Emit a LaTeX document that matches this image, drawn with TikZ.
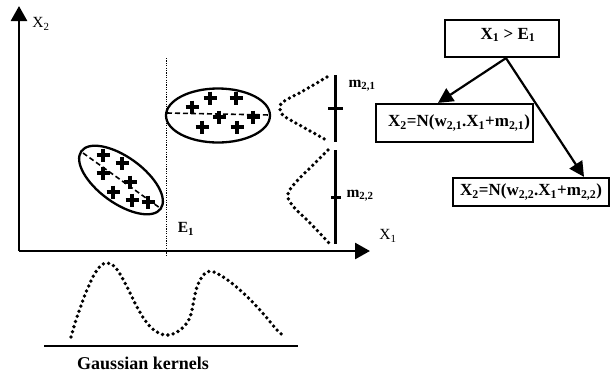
\documentclass[tikz,border=0pt]{standalone}
\usepackage{fontspec}
\setmainfont{Liberation Serif}
\usetikzlibrary{arrows.meta}
\begin{document}
\begin{tikzpicture}[x=1pt,y=-1pt,
  axis/.style={line width=2.6pt,-{Triangle[length=15pt,width=16pt]}},
  dotcurve/.style={line width=3.8pt,line cap=round,dash pattern=on 0pt off 5.4pt},
  plusmark/.style={line width=3.6pt},
  ell/.style={line width=2.3pt},
  dashline/.style={line width=1.6pt,dash pattern=on 5pt off 3pt},
  box/.style={draw,line width=2.2pt,inner sep=0pt},
  boxtxt/.style={font=\fontsize{17}{17}\selectfont\bfseries,inner sep=0pt},
  lab/.style={font=\fontsize{15.5}{15.5}\selectfont,inner sep=0pt},
  blab/.style={font=\fontsize{15.5}{15.5}\selectfont\bfseries,inner sep=0pt},
  conn/.style={line width=2.2pt,-{Triangle[length=15pt,width=15pt]}},
  solidbar/.style={line width=3pt},
]
\useasboundingbox (0,0) rectangle (610,376);
% axes
\coordinate (O) at (19,251);
\coordinate (xend) at (370,251);
\coordinate (yend) at (19,6);
\draw[axis] (O) -- (xend);
\draw[axis] (O) -- (yend);
\node[lab] (x2lab) at (41,24) {X\textsubscript{2}};
\node[lab] (x1lab) at (388,236) {X\textsubscript{1}};
% split line
\draw[line width=1.6pt,dash pattern=on 1.2pt off 1.2pt] (166.5,58) -- (166.5,256);
\node[blab] (e1lab) at (186,229) {E\textsubscript{1}};
% left cluster
\begin{scope}[shift={(121,180)},rotate=-36]
  \draw[ell] (0,0) ellipse [x radius=49pt, y radius=23pt];
\end{scope}
\draw[dashline] (83,153) -- (160,208);
\foreach \px/\py in {103/155,122/163,103/173,130/182,113/192,132/200,148/202}
  \draw[plusmark] (\px-6.5,\py) -- (\px+6.5,\py) (\px,\py-6.5) -- (\px,\py+6.5);
% right cluster
\draw[ell] (218,115.5) ellipse [x radius=52pt, y radius=27pt];
\draw[dashline] (167,113) -- (270,115);
\foreach \px/\py in {192/107,210/98,236/98,219/117,253/117,202/127,237/127}
  \draw[plusmark] (\px-6.5,\py) -- (\px+6.5,\py) (\px,\py-6.5) -- (\px,\py+6.5);
% conditional densities
\draw[dotcurve] plot[smooth,tension=0.6] coordinates {(327,77) (303,91) (283,102) (280,109) (284,116) (303,127) (328,141)};
\draw[dotcurve] plot[smooth,tension=0.6] coordinates {(328,150) (312,166) (296,182) (288,194) (292,205) (310,223) (329,243)};
\draw[solidbar] (335,75) -- (335,142);
\draw[solidbar] (328,108) -- (343,108);
\draw[solidbar] (335,150) -- (335,244);
\draw[solidbar] (331,197) -- (341,197);
\node[blab] (m21) at (362,86) {m\textsubscript{2,1}};
\node[blab] (m22) at (360,196) {m\textsubscript{2,2}};
% gaussian kernels
\draw[line width=2.6pt] (44,346) -- (298,346);
\draw[dotcurve] plot[smooth,tension=0.6] coordinates {(71,337) (77,317) (87,290) (97,270) (106,263) (115,267) (125,283) (137,307) (147,323) (157,332) (168,335) (180,330) (190,317) (197,287) (207,272) (220,275) (240,290) (260,310) (277,330) (285,337)};
\node[font=\fontsize{18}{18}\selectfont\bfseries,inner sep=0pt] (gk) at (143,363) {Gaussian kernels};
% decision tree
\node[box, minimum width=114pt, minimum height=37pt] (b1) at (502,38.5) {};
\node[boxtxt] (t1) at (508,35) {X\textsubscript{1} > E\textsubscript{1}};
\node[box, minimum width=157pt, minimum height=38pt] (b2) at (454.5,123) {};
\node[boxtxt, anchor=west] (t2) at (388,123) {X\textsubscript{2}=N(w\textsubscript{2,1}.X\textsubscript{1}+m\textsubscript{2,1})};
\node[box, minimum width=156pt, minimum height=28pt] (b3) at (531,192) {};
\node[boxtxt, anchor=west] (t3) at (460,192) {X\textsubscript{2}=N(w\textsubscript{2,2}.X\textsubscript{1}+m\textsubscript{2,2})};
\draw[conn] ([xshift=4pt]b1.south) -- ([xshift=-16.5pt]b2.north);
\draw[conn] ([xshift=4pt]b1.south) -- ([xshift=53pt]b3.north);
\end{tikzpicture}
\end{document}
